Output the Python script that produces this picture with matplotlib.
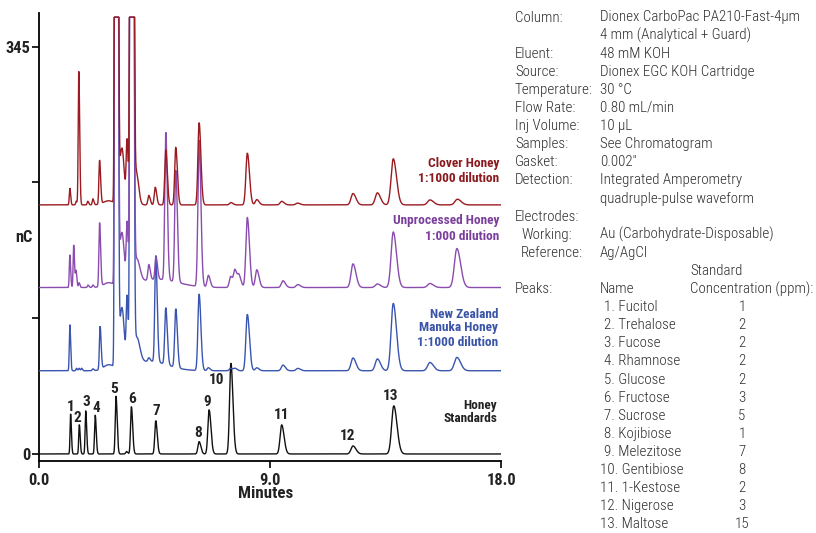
import numpy as np
import matplotlib
matplotlib.use('Agg')
import matplotlib.pyplot as plt
import matplotlib.font_manager as fm

# ---------------- data ----------------
# Honey standards (numbered peaks)
STD_T = [1.22, 1.56, 1.81, 2.18, 2.99, 3.59, 4.54, 6.23, 6.62, 7.47, 9.45, 12.23, 13.82]
STD_H = [33.9, 24.8, 36.4, 33.0, 49.0, 40.0, 28.2, 10.4, 37.3, 76.8, 24.6, 6.8, 40.7]
STD_LABELS = ['1', '2', '3', '4', '5', '6', '7', '8', '9', '10', '11', '12', '13']
STD_MINOR_T = [3.40]
STD_MINOR_H = [2.0]

# New Zealand Manuka honey
BLUE_T = [1.19, 1.45, 1.55, 1.65, 2.09, 2.37, 2.99, 3.42, 3.59, 4.27, 4.54, 4.93, 5.32, 6.23,
          6.59, 7.46, 7.63, 8.11, 8.48, 9.50, 10.08, 12.23, 13.18, 13.80, 15.23, 16.28]
BLUE_H = [39.0, 2.0, 2.0, 2.0, 1.5, 36.4, 4000, 56.0, 4000, 3.0, 90.0, 48.0, 49.7, 64.7,
          2.5, 2.0, 2.0, 47.8, 2.5, 4.8, 2.0, 10.8, 10.0, 57.0, 7.0, 11.3]
BLUE_HUMP_T = [2.70, 3.22, 3.80, 4.30]
BLUE_HUMP_H = [4.5, 51.0, 22.0, 8.0]

# Unprocessed honey
PURPLE_T = [1.19, 1.34, 1.43, 1.55, 1.90, 2.09, 2.35, 2.99, 3.42, 3.59, 4.27, 4.55, 4.93, 5.32,
            6.23, 6.59, 7.46, 7.63, 7.79, 8.11, 8.48, 9.50, 10.08, 12.23, 13.18, 13.80, 15.23, 16.28]
PURPLE_H = [27.7, 36.0, 14.0, 4.0, 2.0, 2.0, 54.0, 4000, 50.0, 4000, 13.0, 19.0, 125.0, 94.6,
            124.0, 10.0, 9.3, 14.4, 9.3, 59.3, 15.0, 5.7, 2.5, 20.0, 3.0, 47.0, 3.4, 33.0]
PURPLE_HUMP_T = [2.70, 3.22, 3.80, 4.60]
PURPLE_HUMP_H = [3.7, 45.0, 20.0, 7.0]

# Clover honey
RED_T = [1.19, 1.44, 1.54, 1.89, 2.09, 2.35, 2.99, 3.42, 3.59, 4.27, 4.52, 4.93, 5.32, 6.23,
         7.47, 8.11, 8.48, 9.45, 10.07, 12.23, 13.18, 13.80, 15.23, 16.30]
RED_H = [14.2, 3.0, 113.0, 3.0, 5.0, 37.0, 4000, 52.0, 4000, 8.0, 15.0, 46.6, 48.7, 69.6,
         2.0, 43.9, 4.5, 3.0, 1.5, 9.6, 10.2, 39.0, 4.2, 4.8]
RED_HUMP_T = [2.70, 3.22, 3.78]
RED_HUMP_H = [3.5, 48.0, 28.0]

SAMPLE_NAMES = ['Honey\nStandards', 'New Zealand\nManuka Honey\n1:1000 dilution',
                'Unprocessed Honey\n1:000 dilution', 'Clover Honey\n1:1000 dilution']

INFO_LEFT = ['Column:', '', 'Eluent:', 'Source:', 'Temperature:', 'Flow Rate:', 'Inj Volume:',
             'Samples:', 'Gasket:', 'Detection:', '', 'Electrodes:']
INFO_RIGHT = ['Dionex CarboPac PA210-Fast-4\u00b5m', '4 mm (Analytical + Guard)', '48 mM KOH',
              'Dionex EGC KOH Cartridge', '30 \u00b0C', '0.80 mL/min', '10 \u00b5L',
              'See Chromatogram', '0.002"', 'Integrated Amperometry',
              'quadruple-pulse waveform', '']
ELECTRODE_LEFT = ['Working:', 'Reference:']
ELECTRODE_RIGHT = ['Au (Carbohydrate-Disposable)', 'Ag/AgCl']
PEAK_NAMES = ['Fucitol', 'Trehalose', 'Fucose', 'Rhamnose', 'Glucose', 'Fructose', 'Sucrose',
              'Kojibiose', 'Melezitose', 'Gentibiose', '1-Kestose', 'Nigerose', 'Maltose']
PEAK_CONC = ['1', '2', '2', '2', '2', '3', '5', '1', '7', '8', '2', '3', '15']

# ---------------- styling / layout ----------------
W, H = 816, 533
OFFSETS = [0.0, 70.5, 141.0, 211.0]
CLIP = 370.0
COLORS = ['#111111', '#3a55b0', '#8a4cae', '#9b1b20']
TEXT_COLORS = ['#222222', '#3a55a8', '#7a3f9c', '#8b1a1e']
HUMP_W_BLUE = [0.20, 0.09, 0.12, 0.70]
HUMP_W_PURPLE = [0.20, 0.09, 0.12, 0.80]
HUMP_W_RED = [0.20, 0.09, 0.09]

# pick a condensed font if one is installed
_names = {f.name for f in fm.fontManager.ttflist}
_narrow = None
for cand in ['Liberation Sans Narrow', 'Roboto Condensed', 'Open Sans Condensed',
             'Arial Narrow', 'Nimbus Sans Narrow', 'DejaVu Sans Condensed']:
    if cand in _names:
        _narrow = cand
        break
_has_dv_cond = any(f.name == 'DejaVu Sans' and str(f.stretch) in ('condensed', '300')
                   for f in fm.fontManager.ttflist)
if _narrow:
    FAM = [_narrow, 'DejaVu Sans']
    STRETCH = 'normal'
else:
    FAM = ['DejaVu Sans']
    STRETCH = 'condensed' if _has_dv_cond else 'normal'
LIGHT_FAM = FAM
LIGHT_W = 'normal'
for f in fm.fontManager.ttflist:
    if f.name == 'Roboto Condensed' and f.weight in (300, 'light'):
        LIGHT_W = 'light'

t = np.linspace(0, 18, 18001)


def width_at(t0):
    return 0.015 + 0.005 * t0


def peak(t0, h, sl, sr):
    return h * np.where(t < t0, np.exp(-0.5 * ((t - t0) / sl) ** 2),
                        np.exp(-0.5 * ((t - t0) / sr) ** 2))


def build(times, heights, hump_t=(), hump_h=(), hump_w=()):
    y = np.zeros_like(t)
    for t0, h in zip(times, heights):
        s = width_at(t0)
        y += peak(t0, h, s, 1.5 * s)
    for t0, h, w in zip(hump_t, hump_h, hump_w):
        y += peak(t0, h, w, w)
    return y


signals = [
    build(STD_T + STD_MINOR_T, STD_H + STD_MINOR_H),
    build(BLUE_T, BLUE_H, BLUE_HUMP_T, BLUE_HUMP_H, HUMP_W_BLUE),
    build(PURPLE_T, PURPLE_H, PURPLE_HUMP_T, PURPLE_HUMP_H, HUMP_W_PURPLE),
    build(RED_T, RED_H, RED_HUMP_T, RED_HUMP_H, HUMP_W_RED),
]

fig = plt.figure(figsize=(W / 100, H / 100), dpi=100)
renderer = fig.canvas.get_renderer()


def fit_size(s, target_px, weight='normal', fam=None, cap=None):
    tmp = fig.text(0, 0, s, fontsize=10, family=fam or FAM, fontweight=weight,
                   fontstretch=STRETCH)
    w = tmp.get_window_extent(renderer).width
    tmp.remove()
    fs = 10 * target_px / w
    if cap is not None:
        fs = min(fs, cap)
    return fs


FS_TICK = fit_size('345', 25, 'bold', cap=13.5)
FS_NUM = fit_size('10', 15.5, 'bold', cap=12.5)
FS_NAME = fit_size('Clover Honey', 71, 'bold', cap=10.5)
FS_AXLAB = fit_size('Minutes', 55, 'bold', cap=13.5)
FS_INFO = fit_size('Concentration (ppm):', 123, LIGHT_W, LIGHT_FAM, cap=11.5)

ax = fig.add_axes([39.3 / W, 72.3 / H, (501 - 39.3) / W, (460.7 - 12.7) / H])
ax.set_xlim(0, 18)
ax.set_ylim(-5.7, 373.8)

for i, (sig, off, col) in enumerate(zip(signals, OFFSETS, COLORS)):
    ax.plot(t, np.minimum(sig + off, CLIP), color=col, lw=1.0, zorder=2 + i,
            solid_joinstyle='miter')

for s in ['top', 'right']:
    ax.spines[s].set_visible(False)
for s in ['left', 'bottom']:
    ax.spines[s].set_linewidth(1.3)
ax.set_yticks([0, 115, 230, 345])
ax.set_yticklabels(['0', '', '', '345'])
ax.set_xticks([0, 9, 18])
ax.set_xticklabels(['0.0', '9.0', '18.0'])
ax.tick_params(direction='out', length=5, width=1.2, pad=1.5, labelsize=FS_TICK)
for lab in ax.get_xticklabels() + ax.get_yticklabels():
    lab.set_family(FAM)
    lab.set_stretch(STRETCH)
    lab.set_weight('bold')
    lab.set_color('#222222')
ax.tick_params(axis='x', pad=3.5)

# peak number labels (offsets in pixels from apex)
LABEL_DX = [0, -1.6, 0.3, 0.7, -1.7, 0.4, 0.3, -0.7, -2.3, -14.3, 0, -5.3, -3.7]
LABEL_DY = [7.3, 6.7, 9.3, 6.7, 6.7, 7.4, 9.7, 8.4, 7.7, -16.7, 10, 10, 10.3]
for t0, h, lab, dx, dy in zip(STD_T, STD_H, STD_LABELS, LABEL_DX, LABEL_DY):
    ax.annotate(lab, (t0, h), xytext=(dx, dy), textcoords='offset pixels',
                ha='center', va='center', fontsize=FS_NUM, fontweight='bold',
                family=FAM, fontstretch=STRETCH, color='#222222', zorder=10)


def fx(x):
    return x / W


def fy(y):
    return 1 - y / H


# sample labels (right aligned)
NAME_X = [497, 498, 499, 499]
NAME_Y = [[405, 418], [314, 328, 342], [221, 237], [163, 178]]
for name, x, ys, col in zip(SAMPLE_NAMES, NAME_X, NAME_Y, TEXT_COLORS):
    for line, y in zip(name.split('\n'), ys):
        fig.text(fx(x), fy(y), line, ha='right', va='center', fontsize=FS_NAME,
                 fontweight='bold', family=FAM, fontstretch=STRETCH, color=col)

fig.text(fx(24), fy(237), 'nC', ha='center', va='center', fontsize=FS_TICK,
         fontweight='bold', family=FAM, fontstretch=STRETCH, color='#222222')
fig.text(fx(266), fy(494), 'Minutes', ha='center', va='center', fontsize=FS_AXLAB,
         fontweight='bold', family=FAM, fontstretch=STRETCH, color='#222222')

# right information block
STEP = 18.1
INFO_COL = '#2e2e2e'
y0 = 17.5


def info(x, y, s, ha='left'):
    fig.text(fx(x), fy(y), s, ha=ha, va='center', fontsize=FS_INFO, family=LIGHT_FAM,
             fontweight=LIGHT_W, fontstretch=STRETCH, color=INFO_COL)


for i, (a, b) in enumerate(zip(INFO_LEFT, INFO_RIGHT)):
    y = y0 + i * STEP
    if a:
        info(515, y, a)
    if b:
        info(600, y, b)
for j, (a, b) in enumerate(zip(ELECTRODE_LEFT, ELECTRODE_RIGHT)):
    y = y0 + (len(INFO_LEFT) + j) * STEP
    info(521, y, a)
    info(600, y, b)

info(690, y0 + 14 * STEP, 'Standard')
y_pk = y0 + 15 * STEP
info(515, y_pk, 'Peaks:')
info(600, y_pk, 'Name')
info(690, y_pk, 'Concentration (ppm):')
for k, (nm, c) in enumerate(zip(PEAK_NAMES, PEAK_CONC)):
    y = y0 + (16 + k) * STEP
    x = 604 if k < 9 else 600
    info(x, y, f'{k + 1}. {nm}')
    info(742, y, c, ha='center')

fig.savefig('out.png', dpi=100)
